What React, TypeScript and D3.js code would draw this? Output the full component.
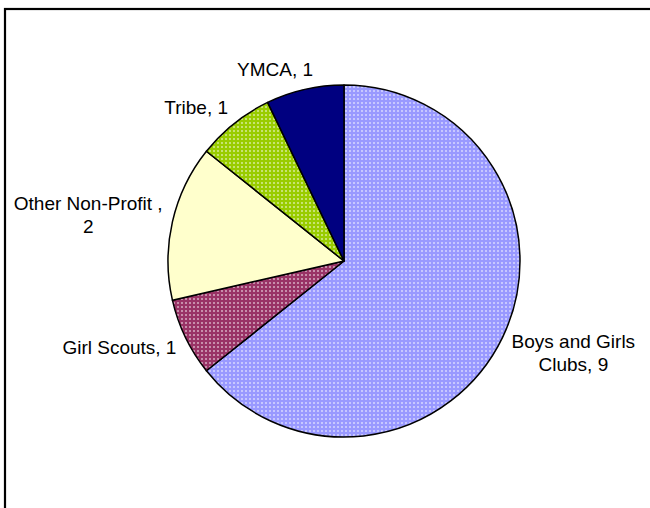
import { useEffect, useRef } from 'react';
import * as d3 from 'd3';

// values
const categories = ['Boys and Girls Clubs', 'Girl Scouts', 'Other Non-Profit ', 'Tribe', 'YMCA'];
const counts = [9, 1, 2, 1, 1];
const baseColors = ['#9999FF', '#993366', '#FFFFCC', '#99CC00', '#000080'];
const dotted = [true, true, false, true, false];

const WIDTH = 650;
const HEIGHT = 508;
const CX = 344;
const CY = 261;
const RADIUS = 176;
const FONT = '"Liberation Sans", Arial, sans-serif';
const FONT_SIZE = 19;
const LINE_HEIGHT = 23;
const LABEL_GAP = 10;
const WRAP_WIDTH = 155;

interface Slice {
  name: string;
  value: number;
  color: string;
  dotted: boolean;
  index: number;
}

export default function App() {
  const svgRef = useRef<SVGSVGElement>(null);

  useEffect(() => {
    const svg = svgRef.current;
    if (!svg) return;

    const root = d3.select(svg);
    root.selectAll('*').remove();

    const data: Slice[] = categories.map((name, i) => ({
      name,
      value: counts[i],
      color: baseColors[i],
      dotted: dotted[i],
      index: i,
    }));

    // dotted fills, like the old office-chart patterns
    const defs = root.append('defs');
    data.forEach((d) => {
      if (!d.dotted) return;
      const p = defs
        .append('pattern')
        .attr('id', `pat-${d.index}`)
        .attr('patternUnits', 'userSpaceOnUse')
        .attr('width', 4)
        .attr('height', 4);
      p.append('rect').attr('width', 4).attr('height', 4).attr('fill', d.color);
      p.append('rect')
        .attr('x', 1)
        .attr('y', 1)
        .attr('width', 2)
        .attr('height', 2)
        .attr('fill', '#ffffff')
        .attr('opacity', 0.45);
    });

    // outer frame (cut off on right and bottom in the reference)
    root
      .append('rect')
      .attr('x', 5)
      .attr('y', 9)
      .attr('width', WIDTH + 40)
      .attr('height', HEIGHT + 40)
      .attr('fill', 'none')
      .attr('stroke', '#000')
      .attr('stroke-width', 2.2);

    const pie = d3
      .pie<Slice>()
      .sort(null)
      .value((d) => d.value)
      .startAngle(0)
      .endAngle(Math.PI * 2);
    const arcs = pie(data);

    const arc = d3.arc<d3.PieArcDatum<Slice>>().innerRadius(0).outerRadius(RADIUS);

    const g = root.append('g').attr('transform', `translate(${CX},${CY})`);

    g.selectAll('path.slice')
      .data(arcs)
      .enter()
      .append('path')
      .attr('class', 'slice')
      .attr('d', arc)
      .attr('fill', (d) => (d.data.dotted ? `url(#pat-${d.data.index})` : d.data.color))
      .attr('stroke', '#000')
      .attr('stroke-width', 1.5)
      .attr('stroke-linejoin', 'round');

    // labels: "Name, value", wrapped, placed just outside the slice
    const ctx = document.createElement('canvas').getContext('2d')!;
    ctx.font = `${FONT_SIZE}px ${FONT}`;
    const measure = (s: string) => ctx.measureText(s).width;

    const wrap = (text: string) => {
      const words = text.split(' ');
      const lines: string[] = [];
      let cur = '';
      words.forEach((w) => {
        const next = cur ? `${cur} ${w}` : w;
        if (cur && measure(next) > WRAP_WIDTH) {
          lines.push(cur);
          cur = w;
        } else {
          cur = next;
        }
      });
      if (cur) lines.push(cur);
      return lines;
    };

    const labels = root.append('g').attr('font-family', FONT).attr('font-size', FONT_SIZE).attr('fill', '#000');

    arcs.forEach((a) => {
      const mid = (a.startAngle + a.endAngle) / 2;
      const sin = Math.sin(mid);
      const cos = Math.cos(mid);
      const px = CX + sin * (RADIUS + LABEL_GAP);
      const py = CY - cos * (RADIUS + LABEL_GAP);

      const lines = wrap(`${a.data.name}, ${a.data.value}`);
      const w = d3.max(lines, measure) ?? 0;
      const h = lines.length * LINE_HEIGHT;
      // near the top the label drifts toward the centre line
      const left = sin >= 0 ? px : px - w + Math.max(0, cos - 0.9) * 140;
      const top = py - h / 2 - (cos * h) / 2;

      const t = labels
        .append('text')
        .attr('text-anchor', 'middle')
        .attr('x', left + w / 2);
      lines.forEach((line, i) => {
        t.append('tspan')
          .attr('x', left + w / 2)
          .attr('y', top + 19 + i * LINE_HEIGHT)
          .text(line);
      });
    });
  }, []);

  return (
    <div style={{ position: 'absolute', left: 0, top: 0, width: WIDTH, height: HEIGHT, background: '#fff' }}>
      <svg ref={svgRef} width={WIDTH} height={HEIGHT} style={{ display: 'block' }} />
    </div>
  );
}
